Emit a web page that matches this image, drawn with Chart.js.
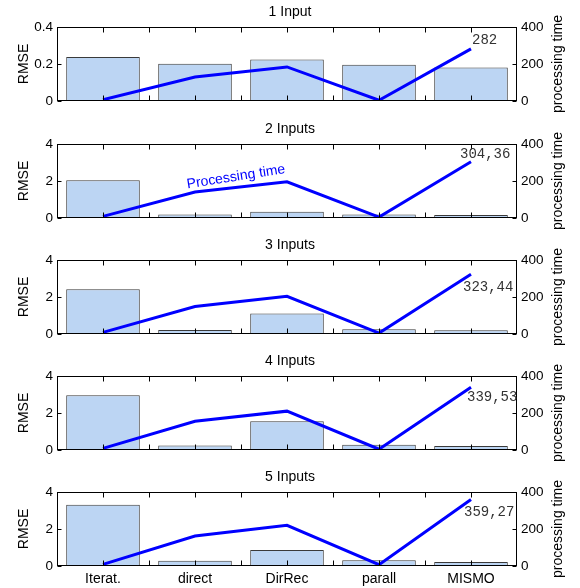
<!DOCTYPE html>
<html>
<head>
<meta charset="utf-8">
<script src="https://cdn.jsdelivr.net/npm/chart.js@4.4.1/dist/chart.umd.min.js"></script>
<style>
  body { margin: 0; background: #fff; }
  #wrap { position: relative; width: 580px; height: 588px; }
  canvas { position: absolute; left: 0; }
</style>
</head>
<body>
<div id="wrap">
  <canvas id="c0" width="580" height="117" style="top:0px"></canvas>
  <canvas id="c1" width="580" height="117" style="top:117px"></canvas>
  <canvas id="c2" width="580" height="117" style="top:233px"></canvas>
  <canvas id="c3" width="580" height="117" style="top:349px"></canvas>
  <canvas id="c4" width="580" height="123" style="top:465px"></canvas>
</div>
<script>
// data
var labels = ['Iterat.', 'direct', 'DirRec', 'parall', 'MISMO'];
var titles = ['1 Input', '2 Inputs', '3 Inputs', '4 Inputs', '5 Inputs'];

var rmse1 = [0.238, 0.202, 0.224, 0.196, 0.181];
var rmse2 = [2.04, 0.19, 0.34, 0.19, 0.16];
var rmse3 = [2.42, 0.21, 1.11, 0.26, 0.20];
var rmse4 = [2.96, 0.25, 1.55, 0.29, 0.21];
var rmse5 = [3.31, 0.28, 0.87, 0.31, 0.22];

var time1 = [7, 130, 184, 4, 282];
var time2 = [9, 140, 196, 5, 304.36];
var time3 = [9, 149, 204, 5, 323.44];
var time4 = [9, 155, 210, 4, 339.53];
var time5 = [9, 162, 220, 7, 359.27];

var rmseMax = [0.4, 4, 4, 4, 4];
var timeNotes = ['282', '304,36', '323,44', '339,53', '359,27'];

var rmse = [rmse1, rmse2, rmse3, rmse4, rmse5];
var times = [time1, time2, time3, time4, time5];

// where the value note sits relative to the last point
var noteOffsets = [[1, -9], [-11, -7], [-8, 13], [-4, 10.5], [-7, 12.5]];

Chart.defaults.font.family = '"Liberation Sans", Arial, sans-serif';
Chart.defaults.color = '#000';

var boxPlugin = {
  id: 'box',
  afterDatasetsDraw: function(chart) {
    var ctx = chart.ctx, a = chart.chartArea;
    var x = chart.scales.x, y = chart.scales.y, y1 = chart.scales.y1;
    var L = Math.round(a.left) + 0.5, R = Math.round(a.right) - 0.5;
    var T = Math.round(a.top) + 0.5, B = Math.round(a.bottom) - 0.5;
    ctx.save();
    ctx.strokeStyle = '#000';
    ctx.lineWidth = 1;
    ctx.beginPath();
    // inward ticks on top and bottom, every half category
    for (var k = 1; k < labels.length * 2; k++) {
      var px = Math.round(x.getPixelForValue(-0.5 + k * 0.5)) + 0.5;
      ctx.moveTo(px, B); ctx.lineTo(px, B - 5);
      ctx.moveTo(px, T); ctx.lineTo(px, T + 5);
    }
    y.ticks.forEach(function(t) {
      var py = Math.round(y.getPixelForValue(t.value)) + 0.5;
      ctx.moveTo(L, py); ctx.lineTo(L + 4, py);
    });
    y1.ticks.forEach(function(t) {
      var py = Math.round(y1.getPixelForValue(t.value)) + 0.5;
      ctx.moveTo(R, py); ctx.lineTo(R - 4, py);
    });
    ctx.stroke();
    ctx.strokeRect(L, T, R - L, B - T);
    ctx.restore();
  },
  afterDraw: function(chart) {
    var ctx = chart.ctx, a = chart.chartArea;
    var i = chart.options.panel;
    ctx.save();
    // right axis title, reading bottom to top
    ctx.translate(558, (a.top + a.bottom) / 2);
    ctx.rotate(-Math.PI / 2);
    ctx.font = '14px "Liberation Sans", Arial, sans-serif';
    ctx.fillStyle = '#000';
    ctx.textAlign = 'center';
    ctx.textBaseline = 'middle';
    ctx.fillText('processing time', 0, 0);
    ctx.restore();

    var pts = chart.getDatasetMeta(0).data;
    var p = pts[pts.length - 1];
    ctx.save();
    ctx.font = '14px "Liberation Mono", "Courier New", monospace';
    ctx.fillStyle = '#333';
    ctx.textAlign = 'left';
    ctx.textBaseline = 'middle';
    ctx.fillText(timeNotes[i], p.x + noteOffsets[i][0], p.y + noteOffsets[i][1]);
    ctx.restore();

    if (i === 1) {
      var p1 = pts[1], p2 = pts[2];
      ctx.save();
      ctx.translate((p1.x + p2.x) / 2 - 5, (p1.y + p2.y) / 2 - 10);
      ctx.rotate(-9 * Math.PI / 180);
      ctx.font = '14px "Liberation Sans", Arial, sans-serif';
      ctx.fillStyle = '#0000ff';
      ctx.textAlign = 'center';
      ctx.textBaseline = 'middle';
      ctx.fillText('Processing time', 0, 0);
      ctx.restore();
    }
  }
};

function makeChart(i) {
  var last = i === 4;
  return new Chart(document.getElementById('c' + i), {
    type: 'bar',
    data: {
      labels: labels,
      datasets: [
        {
          type: 'line',
          data: times[i],
          yAxisID: 'y1',
          borderColor: '#0000ff',
          borderWidth: 3,
          pointRadius: 0,
          tension: 0,
          order: 0
        },
        {
          type: 'bar',
          data: rmse[i],
          yAxisID: 'y',
          backgroundColor: '#bcd5f3',
          borderColor: '#3a3a3a',
          borderWidth: 1,
          barPercentage: 0.8,
          categoryPercentage: 1,
          order: 1
        }
      ]
    },
    options: {
      panel: i,
      responsive: false,
      animation: false,
      layout: { padding: { left: 0, right: 0, top: 0, bottom: last ? 2 : 16 } },
      plugins: {
        legend: { display: false },
        tooltip: { enabled: false },
        title: {
          display: true,
          text: titles[i],
          font: { size: 14, weight: 'normal' },
          color: '#000',
          padding: { top: 4, bottom: 6.2 }
        }
      },
      scales: {
        x: {
          display: last,
          grid: { display: false, drawTicks: false },
          border: { display: false },
          ticks: { font: { size: 14 }, color: '#000', padding: 5 },
          afterFit: function(s) { s.height = last ? 20 : 0; }
        },
        y: {
          position: 'left',
          min: 0,
          max: rmseMax[i],
          ticks: { stepSize: rmseMax[i] / 2, padding: 4, font: { size: 13.5 }, color: '#000' },
          grid: { display: false, drawTicks: false },
          border: { display: false },
          title: { display: true, text: 'RMSE', font: { size: 14 }, color: '#000', padding: { top: 16, bottom: 0 } },
          afterFit: function(s) { s.width = 57; }
        },
        y1: {
          position: 'right',
          min: 0,
          max: 400,
          ticks: { stepSize: 200, padding: 4, font: { size: 13.5 }, color: '#000' },
          grid: { display: false, drawTicks: false },
          border: { display: false },
          afterFit: function(s) { s.width = 63; }
        }
      }
    },
    plugins: [boxPlugin]
  });
}

for (var i = 0; i < 5; i++) {
  makeChart(i);
}
</script>
</body>
</html>
